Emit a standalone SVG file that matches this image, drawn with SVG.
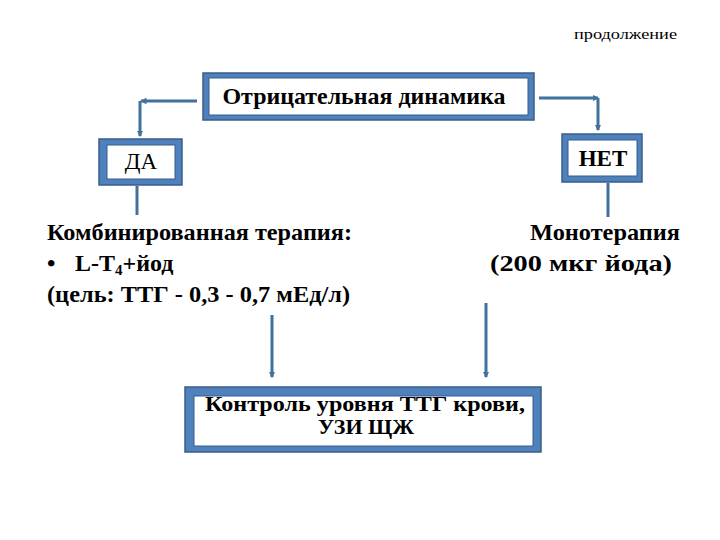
<svg xmlns="http://www.w3.org/2000/svg" width="720" height="540" viewBox="0 0 720 540">
<defs>
<style>
.frame{fill:#4F81BD;stroke:#385D8A;stroke-width:1.5}
.inner{fill:#FFFFFF;stroke:#385D8A;stroke-width:1}
.c{stroke:#41719C;stroke-width:3;fill:none}
</style>
<marker id="ah" viewBox="0 0 6 6" refX="5" refY="3" markerWidth="2.2" markerHeight="2.2" orient="auto" markerUnits="strokeWidth">
<path d="M0,0 L6,3 L0,6 Z" fill="#41719C"/>
</marker>
</defs>
<rect width="720" height="540" fill="#FFFFFF"/>
<text x="677" y="39" text-anchor="end" style="font-family:'Liberation Serif',serif;font-size:14px" fill="#000" textLength="103" lengthAdjust="spacingAndGlyphs">продолжение</text>

<g id="connectors">
<path class="c" d="M197,101 L141,101" marker-end="url(#ah)"/>
<path class="c" d="M140,101 L140,136" marker-end="url(#ah)"/>
<path class="c" d="M539,98 L598,98" marker-end="url(#ah)"/>
<path class="c" d="M598,98 L598,130" marker-end="url(#ah)"/>
<path class="c" d="M137,186 L137,215"/>
<path class="c" d="M608,183 L608,217"/>
<path class="c" d="M272,315 L272,377" marker-end="url(#ah)"/>
<path class="c" d="M486,303 L486,377" marker-end="url(#ah)"/>
</g>

<g id="node-top">
<rect class="frame" x="203" y="73" width="331" height="47"/>
<rect class="inner" x="209" y="78" width="319" height="37"/>
<text style="font-family:'Liberation Serif',serif;font-size:23px;font-weight:bold" x="364" y="104" text-anchor="middle" textLength="283" lengthAdjust="spacingAndGlyphs">Отрицательная динамика</text>
</g>

<g id="node-da">
<rect class="frame" x="99" y="139" width="83" height="46"/>
<rect class="inner" x="107" y="145" width="68" height="34"/>
<text style="font-family:'Liberation Serif',serif;font-size:23px" x="141" y="169" text-anchor="middle">ДА</text>
</g>

<g id="node-net">
<rect class="frame" x="562" y="134" width="80" height="48"/>
<rect class="inner" x="568" y="140" width="69" height="36"/>
<text style="font-family:'Liberation Serif',serif;font-size:23px;font-weight:bold" x="603" y="166" text-anchor="middle">НЕТ</text>
</g>

<g id="node-left">
<text style="font-family:'Liberation Serif',serif;font-size:24px;font-weight:bold" x="47" y="240" textLength="305" lengthAdjust="spacingAndGlyphs">Комбинированная терапия:</text>
<text style="font-family:'Liberation Serif',serif;font-size:24px;font-weight:bold" x="47" y="271">•</text>
<text style="font-family:'Liberation Serif',serif;font-size:24px;font-weight:bold" x="75" y="271">L-T<tspan style="font-size:15px" dy="4">4</tspan><tspan dy="-4">+йод</tspan></text>
<text style="font-family:'Liberation Serif',serif;font-size:24px;font-weight:bold" x="47" y="302" textLength="303" lengthAdjust="spacingAndGlyphs">(цель: ТТГ - 0,3 - 0,7 мЕд/л)</text>
</g>

<g id="node-right">
<text style="font-family:'Liberation Serif',serif;font-size:24px;font-weight:bold" x="680" y="240" text-anchor="end" textLength="150" lengthAdjust="spacingAndGlyphs">Монотерапия</text>
<text style="font-family:'Liberation Serif',serif;font-size:24px;font-weight:bold" x="672" y="271" text-anchor="end" textLength="182" lengthAdjust="spacingAndGlyphs">(200 мкг йода)</text>
</g>

<g id="node-bottom">
<rect class="frame" x="185" y="387" width="356" height="65"/>
<rect class="inner" x="194" y="396" width="339" height="50"/>
<text style="font-family:'Liberation Serif',serif;font-size:22px;font-weight:bold" x="365" y="411" text-anchor="middle" textLength="320" lengthAdjust="spacingAndGlyphs">Контроль уровня ТТГ крови,</text>
<text style="font-family:'Liberation Serif',serif;font-size:22px;font-weight:bold" x="366" y="434" text-anchor="middle">УЗИ ЩЖ</text>
</g>
</svg>
